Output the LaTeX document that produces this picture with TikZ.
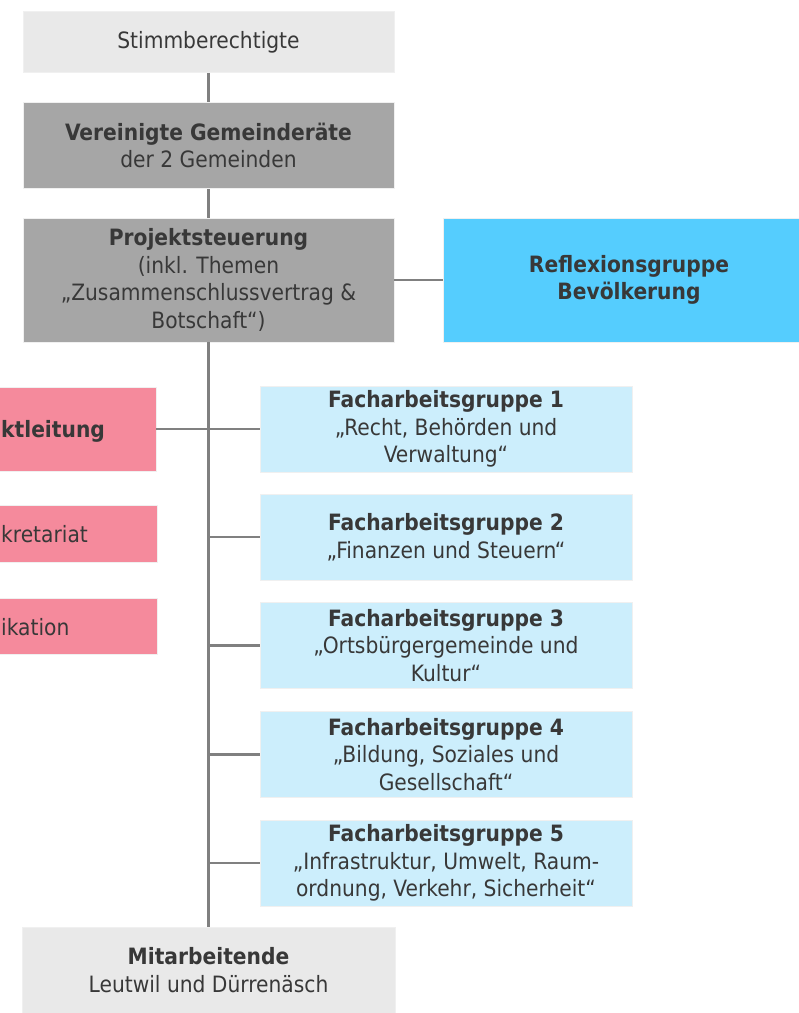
\documentclass[tikz,border=0pt]{standalone}
\usepackage{fontspec}
\setmainfont{DejaVu Sans Condensed}
\definecolor{txt}{HTML}{383838}
\definecolor{lightg}{HTML}{E9E9E9}
\definecolor{darkg}{HTML}{A6A6A6}
\definecolor{refl}{HTML}{55CDFE}
\definecolor{fag}{HTML}{CCEEFC}
\definecolor{pink}{HTML}{F58A9C}
\definecolor{linec}{HTML}{808080}
\begin{document}
\begin{tikzpicture}[x=1pt,y=-1pt,
  box/.style={rectangle, inner sep=0pt, align=center, text=txt,
    font=\fontsize{22.5}{27.5}\selectfont, draw=white!94!black, line width=0.8pt},
  wide/.style={box, minimum width=371, minimum height=#1},
  fagbox/.style={box, fill=fag, minimum width=372, minimum height=86},
  pinkbox/.style={box, fill=pink, minimum height=#1},
  ptext/.style={text=txt, font=\fontsize{22.5}{27.5}\selectfont, anchor=west, inner sep=0pt},
  conn/.style={draw=linec, line width=2.6pt}]
\useasboundingbox (0,0) rectangle (799,1013);
\clip (0,0) rectangle (799,1013);

\node[wide=61, fill=lightg] (stimm) at (208.5,42) {Stimmberechtigte};
\node[wide=86, fill=darkg] (ver) at (208.5,145.5) {\textbf{Vereinigte Gemeinderäte}\\der 2 Gemeinden};
\node[wide=124, fill=darkg] (ps) at (208.5,280) {\textbf{Projektsteuerung}\\(inkl. Themen\\„Zusammenschlussvertrag \&\\Botschaft“)};
\node[wide=124, fill=refl, minimum width=372] (refl) at (629,280) {\textbf{Reflexionsgruppe}\\\textbf{Bevölkerung}};

\node[pinkbox=84, minimum width=200] (pl) at (56,429) {};
\node[ptext, font=\fontsize{22.5}{27.5}\selectfont\bfseries] (plt) at (1,431) {ktleitung};
\node[pinkbox=57, minimum width=200] (sek) at (57.5,534) {};
\node[ptext] (sekt) at (1,534) {kretariat};
\node[pinkbox=56, minimum width=200] (kom) at (57.5,626) {};
\node[ptext] (komt) at (1,627) {ikation};

\node[fagbox] (f1) at (446,429) {\textbf{Facharbeitsgruppe 1}\\„Recht, Behörden und\\Verwaltung“};
\node[fagbox] (f2) at (446,537) {\textbf{Facharbeitsgruppe 2}\\„Finanzen und Steuern“};
\node[fagbox] (f3) at (446,645.5) {\textbf{Facharbeitsgruppe 3}\\„Ortsbürgergemeinde und\\Kultur“};
\node[fagbox] (f4) at (446,754.5) {\textbf{Facharbeitsgruppe 4}\\„Bildung, Soziales und\\Gesellschaft“};
\node[fagbox] (f5) at (446,863) {\textbf{Facharbeitsgruppe 5}\\„Infrastruktur, Umwelt, Raum-\\ordnung, Verkehr, Sicherheit“};

\node[wide=86, fill=lightg, minimum width=373] (mit) at (208.5,970) {\textbf{Mitarbeitende}\\Leutwil und Dürrenäsch};

\draw[conn] (stimm.south) -- (ver.north);
\draw[conn] (ver.south) -- (ps.north);
\draw[conn] (ps.east) -- (refl.west);
\draw[conn] (ps.south) -- (mit.north);
\draw[conn] (pl.east) -- (f1.west);
\draw[conn] (f2.west) -- (f2.west -| ps.south);
\draw[conn] (f3.west) -- (f3.west -| ps.south);
\draw[conn] (f4.west) -- (f4.west -| ps.south);
\draw[conn] (f5.west) -- (f5.west -| ps.south);
\end{tikzpicture}
\end{document}
